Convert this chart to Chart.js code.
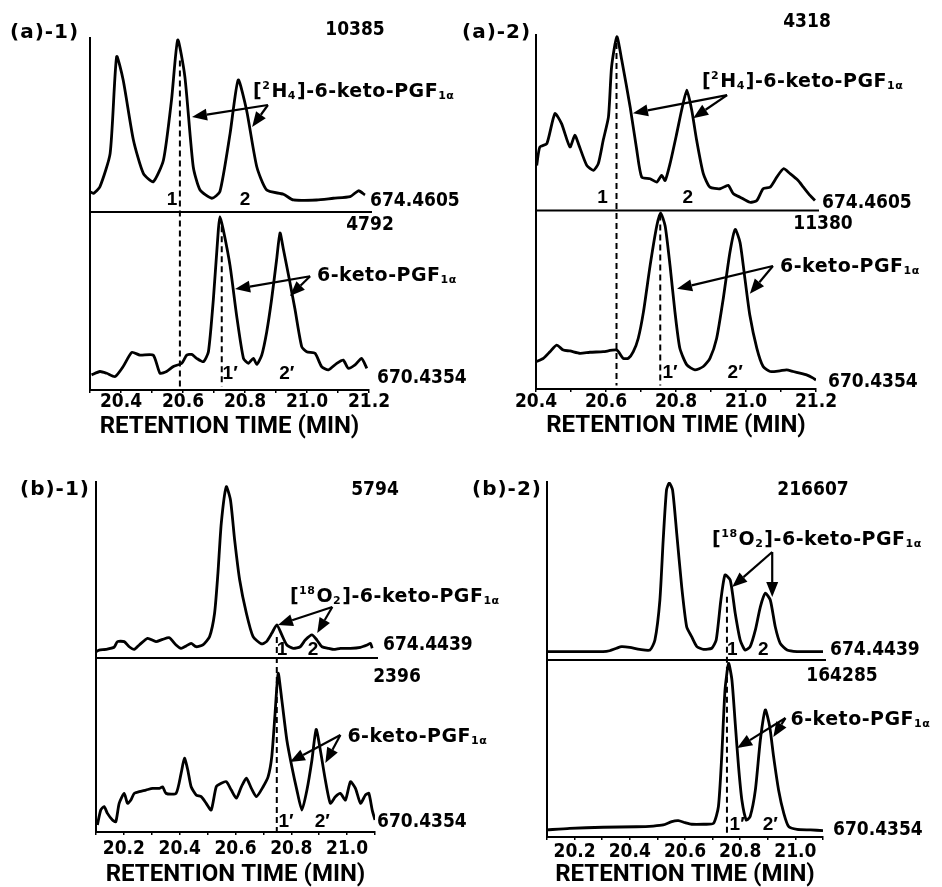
<!DOCTYPE html>
<html>
<head>
<meta charset="utf-8">
<title>6-keto-PGF1α selected ion chromatograms</title>
<script src="https://cdn.jsdelivr.net/npm/chart.js@4.4.1/dist/chart.umd.min.js"></script>
<style>
  html, body { margin: 0; padding: 0; background: #fff; }
  body { position: relative; width: 942px; height: 887px; overflow: hidden; }
  canvas { position: absolute; }
</style>
</head>
<body>
<canvas id="a1"></canvas>
<canvas id="a2"></canvas>
<canvas id="b1"></canvas>
<canvas id="b2"></canvas>
<script>
// retention time (min) and intensity (% of the full-scale count printed above each trace)

// (a)-1
const a1UpperTime = [20.300, 20.311, 20.332, 20.365, 20.386, 20.407, 20.440, 20.472, 20.504, 20.537, 20.563, 20.583, 20.606, 20.633, 20.655, 20.693, 20.719, 20.752, 20.778, 20.805, 20.838, 20.870, 20.924, 20.956, 21.031, 21.085, 21.139, 21.166, 21.187];
const a1UpperInt = [11.7, 10.7, 14.5, 33.7, 89.3, 75.9, 41.4, 22.2, 17.4, 29.9, 64.4, 98.9, 77.8, 26.0, 12.6, 7.9, 11.7, 45.2, 75.9, 58.6, 26.0, 12.6, 10.2, 6.9, 6.9, 7.9, 8.8, 12.2, 9.8];
const a1LowerTime = [20.305, 20.332, 20.354, 20.381, 20.407, 20.435, 20.461, 20.504, 20.526, 20.547, 20.569, 20.596, 20.612, 20.628, 20.644, 20.666, 20.682, 20.698, 20.714, 20.719, 20.730, 20.752, 20.773, 20.795, 20.811, 20.827, 20.838, 20.854, 20.870, 20.886, 20.902, 20.913, 20.924, 20.945, 20.961, 20.983, 20.999, 21.026, 21.047, 21.069, 21.096, 21.117, 21.133, 21.155, 21.176, 21.193];
const a1LowerInt = [8.5, 10.4, 9.4, 7.6, 13.2, 21.1, 19.6, 19.6, 9.4, 10.4, 13.2, 15.0, 19.6, 20.0, 17.8, 15.9, 21.5, 51.1, 90.0, 97.4, 90.0, 69.6, 41.8, 17.8, 15.0, 17.8, 14.4, 19.6, 32.6, 51.1, 73.3, 88.2, 78.9, 60.4, 45.6, 24.3, 21.5, 20.6, 13.2, 11.3, 15.0, 16.8, 12.2, 14.1, 17.8, 12.2];

// (a)-2
const a2UpperTime = [20.402, 20.411, 20.431, 20.454, 20.473, 20.497, 20.511, 20.521, 20.545, 20.564, 20.578, 20.592, 20.607, 20.616, 20.631, 20.645, 20.669, 20.688, 20.702, 20.726, 20.745, 20.759, 20.769, 20.783, 20.802, 20.816, 20.831, 20.845, 20.859, 20.878, 20.897, 20.926, 20.949, 20.964, 20.983, 21.011, 21.031, 21.049, 21.069, 21.088, 21.107, 21.126, 21.149, 21.164, 21.183, 21.197];
const a2UpperInt = [25.7, 36.2, 38.1, 55.2, 49.5, 36.2, 42.9, 38.1, 25.7, 22.9, 26.7, 40.0, 53.3, 81.9, 99.0, 85.7, 59.0, 34.3, 19.0, 18.1, 16.2, 20.0, 17.1, 26.7, 43.8, 57.1, 68.6, 57.1, 40.0, 21.0, 13.3, 12.4, 14.3, 9.5, 7.6, 4.7, 5.7, 12.4, 13.3, 19.0, 23.8, 21.0, 17.1, 13.3, 8.6, 5.7];
const a2LowerTime = [20.402, 20.421, 20.440, 20.459, 20.478, 20.497, 20.526, 20.554, 20.592, 20.631, 20.649, 20.664, 20.678, 20.692, 20.707, 20.726, 20.745, 20.756, 20.769, 20.783, 20.797, 20.811, 20.831, 20.854, 20.878, 20.897, 20.916, 20.935, 20.954, 20.969, 20.983, 20.997, 21.011, 21.031, 21.049, 21.069, 21.097, 21.116, 21.135, 21.154, 21.173, 21.192, 21.200];
const a2LowerInt = [15.4, 17.2, 20.9, 24.6, 21.8, 21.3, 20.0, 20.6, 20.9, 21.8, 17.2, 17.2, 20.9, 28.3, 43.2, 69.1, 91.3, 98.7, 91.3, 69.1, 43.2, 22.8, 13.5, 10.7, 12.6, 17.2, 28.3, 50.6, 76.5, 89.4, 82.1, 61.7, 41.3, 22.8, 12.6, 9.8, 10.2, 10.7, 9.8, 8.9, 7.9, 6.1, 5.0];

// (b)-1
const b1UpperTime = [20.100, 20.111, 20.135, 20.165, 20.177, 20.201, 20.219, 20.237, 20.255, 20.285, 20.315, 20.339, 20.363, 20.387, 20.405, 20.423, 20.441, 20.459, 20.483, 20.507, 20.525, 20.537, 20.549, 20.567, 20.582, 20.597, 20.615, 20.639, 20.663, 20.693, 20.711, 20.730, 20.748, 20.766, 20.784, 20.807, 20.832, 20.850, 20.874, 20.892, 20.910, 20.934, 20.952, 20.976, 21.012, 21.048, 21.072, 21.084, 21.090];
const b1UpperInt = [3.6, 4.5, 4.9, 6.1, 9.3, 9.3, 6.4, 4.9, 7.4, 11.2, 9.3, 10.6, 11.5, 7.4, 5.5, 6.8, 8.3, 6.4, 7.4, 12.1, 25.4, 48.1, 76.5, 97.3, 89.8, 67.0, 44.3, 25.4, 12.1, 8.0, 9.3, 14.0, 18.8, 13.1, 7.4, 5.5, 6.4, 10.2, 13.1, 10.2, 6.4, 5.5, 4.9, 5.5, 5.5, 6.1, 7.4, 8.3, 5.5];
const b1LowerTime = [20.105, 20.117, 20.129, 20.141, 20.159, 20.171, 20.183, 20.201, 20.213, 20.225, 20.237, 20.255, 20.279, 20.303, 20.327, 20.339, 20.351, 20.387, 20.405, 20.417, 20.429, 20.441, 20.459, 20.477, 20.495, 20.513, 20.531, 20.549, 20.567, 20.585, 20.603, 20.621, 20.639, 20.657, 20.675, 20.699, 20.717, 20.730, 20.741, 20.753, 20.766, 20.784, 20.802, 20.820, 20.838, 20.856, 20.874, 20.889, 20.904, 20.922, 20.940, 20.958, 20.976, 20.994, 21.012, 21.030, 21.048, 21.066, 21.078, 21.090, 21.100];
const b1LowerInt = [4.0, 12.6, 14.6, 10.7, 6.9, 5.9, 16.5, 22.2, 16.5, 18.4, 22.2, 23.2, 24.1, 25.1, 25.1, 26.0, 22.2, 22.2, 33.7, 42.4, 35.6, 26.0, 21.3, 20.3, 16.5, 12.6, 26.0, 28.0, 28.9, 24.1, 19.4, 26.0, 30.9, 25.1, 20.3, 26.0, 31.8, 43.3, 66.3, 91.2, 75.9, 52.9, 37.5, 24.1, 12.6, 24.1, 41.4, 59.0, 47.1, 29.9, 16.5, 20.3, 22.2, 18.4, 28.9, 25.1, 16.5, 21.3, 22.2, 12.6, 6.9];

// (b)-2
const b2UpperTime = [20.100, 20.182, 20.303, 20.327, 20.352, 20.370, 20.400, 20.436, 20.473, 20.491, 20.509, 20.521, 20.533, 20.543, 20.555, 20.570, 20.588, 20.606, 20.624, 20.643, 20.667, 20.697, 20.713, 20.730, 20.745, 20.764, 20.782, 20.800, 20.818, 20.836, 20.855, 20.873, 20.891, 20.909, 20.927, 20.945, 20.970, 21.006, 21.055, 21.100];
const b2UpperInt = [4.7, 4.7, 4.7, 5.2, 6.6, 7.5, 7.1, 6.0, 5.6, 11.2, 33.7, 67.4, 95.5, 99.5, 95.5, 71.2, 41.2, 18.7, 13.1, 7.5, 6.0, 6.6, 11.2, 33.7, 47.8, 44.9, 26.2, 11.2, 5.6, 7.5, 16.9, 29.9, 37.5, 33.7, 18.7, 9.4, 5.6, 4.7, 4.7, 4.7];
const b2LowerTime = [20.100, 20.182, 20.303, 20.424, 20.485, 20.521, 20.552, 20.576, 20.600, 20.624, 20.667, 20.703, 20.721, 20.733, 20.745, 20.758, 20.770, 20.782, 20.794, 20.806, 20.822, 20.836, 20.855, 20.873, 20.891, 20.907, 20.921, 20.939, 20.958, 20.976, 21.006, 21.055, 21.100];
const b2LowerInt = [4.0, 4.9, 5.5, 5.8, 6.2, 6.8, 8.7, 9.2, 8.1, 7.2, 7.2, 7.7, 17.1, 45.4, 83.1, 98.1, 88.7, 64.2, 39.7, 20.9, 9.6, 11.5, 26.6, 54.8, 71.8, 62.3, 45.4, 26.6, 13.4, 5.8, 4.3, 4.0, 3.6];

// printed texts
const panelNames = ['(a)-1)', '(a)-2)', '(b)-1)', '(b)-2)'];
const upperCounts = ['10385', '4318', '5794', '216607'];
const lowerCounts = ['4792', '11380', '2396', '164285'];
const upperIons = ['674.4605', '674.4605', '674.4439', '674.4439'];
const lowerIons = ['670.4354', '670.4354', '670.4354', '670.4354'];
const timeRanges = [[20.3, 21.2], [20.4, 21.2], [20.1, 21.1], [20.1, 21.1]];

const NUM_FAMILY = '"Liberation Sans Narrow", "DejaVu Sans Condensed", sans-serif';
const NAME_FONT = 'bold 19px "DejaVu Sans"';
const SMALL_FONT = 'bold 11px "DejaVu Sans"';

const NAMES = {
  H4: [['[', 0], ['2', 1], ['H', 0], ['4', -1], [']-6-keto-PGF', 0], ['1α', -1]],
  O2: [['[', 0], ['18', 1], ['O', 0], ['2', -1], [']-6-keto-PGF', 0], ['1α', -1]],
  plain: [['6-keto-PGF', 0], ['1α', -1]]
};

// layout of every panel, page pixels
const panels = [
  {
    id: 'a1', box: [0, 0, 480, 445], area: [90, 38, 369, 390], split: 212, axisH: 48.5, tickPad: 0,
    upper: [a1UpperTime, a1UpperInt], lower: [a1LowerTime, a1LowerInt],
    dashes: [{t: 20.59, from: ['u', 87], to: ['l', 2]}, {t: 20.725, from: ['l', 92], to: ['l', 2]}],
    arrows: [{s: 'u', tail: [20.874, 61.5], heads: [[20.629, 54.6], [20.823, 48.9]]},
             {s: 'l', tail: [21.010, 63.9], heads: [[20.768, 56.7], [20.945, 52.8]]}],
    names: [{s: 'u', at: [20.826, 69], kind: 'H4'}, {s: 'l', at: [21.032, 63.9], kind: 'plain'}],
    peaks: [{s: 'u', at: [20.565, 6.9], text: '1'}, {s: 'u', at: [20.8, 6.9], text: '2'},
            {s: 'l', at: [20.752, 9.4], text: '1′'}, {s: 'l', at: [20.935, 9.4], text: '2′'}],
    side: {name: [10, 33], uCount: [355, 30], uIon: [370, 201], lCount: [370, 225], lIon: [377, 378]}
  },
  {
    id: 'a2', box: [455, 0, 487, 445], area: [536, 35, 816, 389], split: 210.5, axisH: 49, tickPad: 1,
    upper: [a2UpperTime, a2UpperInt], lower: [a2LowerTime, a2LowerInt],
    dashes: [{t: 20.63, from: ['u', 95.4], to: ['l', 2]}, {t: 20.755, from: ['l', 97.8], to: ['l', 2]}],
    arrows: [{s: 'u', tail: [20.946, 65.7], heads: [[20.677, 55.4], [20.849, 52.6]]},
             {s: 'l', tail: [21.077, 68.9], heads: [[20.803, 56.1], [21.011, 53.3]]}],
    names: [{s: 'u', at: [20.874, 73.1], kind: 'H4'}, {s: 'l', at: [21.097, 68.3], kind: 'plain'}],
    peaks: [{s: 'u', at: [20.59, 7.4], text: '1'}, {s: 'u', at: [20.834, 7.4], text: '2'},
            {s: 'l', at: [20.783, 8.9], text: '1′'}, {s: 'l', at: [20.969, 8.9], text: '2′'}],
    side: {name: [462, 33], uCount: [807, 22], uIon: [822, 203], lCount: [823, 224], lIon: [828, 382]}
  },
  {
    id: 'b1', box: [0, 445, 500, 442], area: [96, 482, 375, 832], split: 658, axisH: 55, tickPad: 5,
    upper: [b1UpperTime, b1UpperInt], lower: [b1LowerTime, b1LowerInt],
    dashes: [{t: 20.748, from: ['u', 12], to: ['l', 0]}],
    arrows: [{s: 'u', tail: [20.947, 29.0], heads: [[20.752, 18.8], [20.893, 14.2]]},
             {s: 'l', tail: [20.976, 55.7], heads: [[20.795, 40.2], [20.922, 39.7]]}],
    names: [{s: 'u', at: [20.795, 34.7], kind: 'O2'}, {s: 'l', at: [21.001, 54.6], kind: 'plain'}],
    peaks: [{s: 'u', at: [20.767, 4.5], text: '1'}, {s: 'u', at: [20.878, 4.5], text: '2'},
            {s: 'l', at: [20.781, 5.7], text: '1′'}, {s: 'l', at: [20.911, 5.7], text: '2′'}],
    side: {name: [20, 490], uCount: [375, 490], uIon: [383, 645], lCount: [397, 677], lIon: [377, 822]}
  },
  {
    id: 'b2', box: [460, 445, 482, 442], area: [547, 482, 823, 837], split: 660, axisH: 50, tickPad: 3,
    upper: [b2UpperTime, b2UpperInt], lower: [b2LowerTime, b2LowerInt],
    dashes: [{t: 20.752, from: ['u', 35.6], to: ['l', 1]}],
    arrows: [{s: 'u', tail: [20.916, 60.7], heads: [[20.771, 41.0], [20.916, 35.4]]},
             {s: 'l', tail: [20.964, 67.2], heads: [[20.789, 50.3], [20.920, 56.5]]}],
    names: [{s: 'u', at: [20.698, 67.4], kind: 'O2'}, {s: 'l', at: [20.982, 66.1], kind: 'plain'}],
    peaks: [{s: 'u', at: [20.771, 5.6], text: '1'}, {s: 'u', at: [20.884, 5.6], text: '2'},
            {s: 'l', at: [20.789, 6.8], text: '1′'}, {s: 'l', at: [20.909, 6.8], text: '2′'}],
    side: {name: [472, 490], uCount: [813, 490], uIon: [830, 650], lCount: [842, 676], lIon: [833, 830]}
  }
];

function pairs(times, values) {
  return times.map((t, i) => ({x: t, y: values[i]}));
}

function arrow(ctx, x0, y0, x1, y1) {
  const ang = Math.atan2(y1 - y0, x1 - x0);
  const len = 15, half = 6;
  const bx = x1 - len * Math.cos(ang), by = y1 - len * Math.sin(ang);
  ctx.beginPath();
  ctx.moveTo(x0, y0);
  ctx.lineTo(bx, by);
  ctx.stroke();
  ctx.beginPath();
  ctx.moveTo(x1, y1);
  ctx.lineTo(bx + half * Math.sin(ang), by - half * Math.cos(ang));
  ctx.lineTo(bx - half * Math.sin(ang), by + half * Math.cos(ang));
  ctx.closePath();
  ctx.fill();
}

function drawName(ctx, parts, x, y) {
  let cx = x;
  ctx.letterSpacing = '0.5px';
  for (const [s, lvl] of parts) {
    ctx.font = lvl === 0 ? NAME_FONT : SMALL_FONT;
    const dy = lvl === 1 ? -6 : (lvl === -1 ? 4 : 0);
    ctx.fillText(s, cx, y + dy);
    cx += ctx.measureText(s).width + (lvl === 0 ? 0 : 1);
  }
  ctx.letterSpacing = '0px';
}

function notes(p, k) {
  return {
    id: 'notes',
    afterDatasetsDraw(chart) {
      const {ctx, chartArea: a, scales} = chart;
      const xs = scales.x;
      const ys = {u: scales.yUpper, l: scales.yLower};
      const px = t => xs.getPixelForValue(t);
      const py = (s, v) => ys[s].getPixelForValue(v);
      const ox = p.box[0], oy = p.box[1];
      ctx.save();
      ctx.strokeStyle = '#000';
      ctx.fillStyle = '#000';

      // baseline of the upper trace
      ctx.lineWidth = 2;
      ctx.beginPath();
      ctx.moveTo(a.left, ys.l.top);
      ctx.lineTo(a.right + 3, ys.l.top);
      ctx.stroke();

      // dashed retention-time markers
      ctx.setLineDash([6, 4]);
      for (const d of p.dashes) {
        ctx.beginPath();
        ctx.moveTo(px(d.t), py(d.from[0], d.from[1]));
        ctx.lineTo(px(d.t), py(d.to[0], d.to[1]));
        ctx.stroke();
      }
      ctx.setLineDash([]);

      // arrows to the peaks
      ctx.lineWidth = 2.2;
      for (const ar of p.arrows) {
        const x0 = px(ar.tail[0]), y0 = py(ar.s, ar.tail[1]);
        for (const h of ar.heads) arrow(ctx, x0, y0, px(h[0]), py(ar.s, h[1]));
      }

      // compound names
      ctx.textAlign = 'left';
      ctx.textBaseline = 'middle';
      for (const n of p.names) drawName(ctx, NAMES[n.kind], px(n.at[0]), py(n.s, n.at[1]));

      // peak numbers
      ctx.textAlign = 'center';
      ctx.font = 'bold 19px "Liberation Sans"';
      for (const pk of p.peaks) ctx.fillText(pk.text, px(pk.at[0]), py(pk.s, pk.at[1]));

      // panel name, full-scale counts and ion masses
      const sd = p.side;
      ctx.textAlign = 'left';
      ctx.font = 'bold 20px "DejaVu Sans"';
      ctx.letterSpacing = '1px';
      ctx.fillText(panelNames[k], sd.name[0] - ox, sd.name[1] - oy);
      ctx.letterSpacing = '0px';
      ctx.font = 'bold 19px ' + NUM_FAMILY;
      ctx.textAlign = 'center';
      ctx.fillText(upperCounts[k], sd.uCount[0] - ox, sd.uCount[1] - oy);
      ctx.fillText(lowerCounts[k], sd.lCount[0] - ox, sd.lCount[1] - oy);
      ctx.textAlign = 'left';
      ctx.fillText(upperIons[k], sd.uIon[0] - ox, sd.uIon[1] - oy);
      ctx.fillText(lowerIons[k], sd.lIon[0] - ox, sd.lIon[1] - oy);
      ctx.restore();
    }
  };
}

function yScale(weight, stackWeight) {
  return {
    type: 'linear', position: 'left', stack: 'traces', stackWeight: stackWeight, weight: weight,
    min: 0, max: 100,
    ticks: {display: false},
    grid: {display: false},
    border: {color: '#000', width: 2},
    afterFit: s => { s.width = 0; }
  };
}

function build(p, k) {
  const canvas = document.getElementById(p.id);
  const [bx, by, bw, bh] = p.box;
  canvas.width = bw;
  canvas.height = bh;
  canvas.style.left = bx + 'px';
  canvas.style.top = by + 'px';
  const [l, t, r, b] = p.area;
  const padBottom = (by + bh) - b - p.axisH;
  const line = {borderColor: '#000', borderWidth: 2.8, pointRadius: 0, tension: 0.2, fill: false};

  new Chart(canvas.getContext('2d'), {
    type: 'line',
    data: {
      datasets: [
        Object.assign({label: upperIons[k], data: pairs(p.upper[0], p.upper[1]), yAxisID: 'yUpper'}, line),
        Object.assign({label: lowerIons[k], data: pairs(p.lower[0], p.lower[1]), yAxisID: 'yLower'}, line)
      ]
    },
    options: {
      responsive: false,
      animation: false,
      events: [],
      layout: {padding: {left: l - bx, top: t - by, right: (bx + bw) - r, bottom: padBottom}},
      plugins: {legend: {display: false}, tooltip: {enabled: false}},
      scales: {
        x: {
          type: 'linear',
          min: timeRanges[k][0],
          max: timeRanges[k][1],
          afterFit: s => { s.height = p.axisH; },
          ticks: {
            stepSize: 0.1,
            autoSkip: false,
            maxRotation: 0,
            padding: p.tickPad,
            color: '#000',
            font: {family: NUM_FAMILY, size: 19, weight: 'bold', lineHeight: 1},
            callback: v => (Math.round(v * 10) % 2 === 0 ? v.toFixed(1) : '')
          },
          grid: {drawOnChartArea: false, drawTicks: true, tickLength: 3, color: '#000', lineWidth: 1.5},
          border: {color: '#000', width: 2},
          title: {
            display: true,
            text: 'RETENTION TIME (MIN)',
            color: '#000',
            padding: 0,
            font: {family: 'Roboto', size: 24, weight: 'bold', lineHeight: 1}
          }
        },
        yUpper: yScale(1, p.split - t),
        yLower: yScale(0, b - p.split)
      }
    },
    plugins: [notes(p, k)]
  });
}

panels.forEach(build);
</script>
</body>
</html>
